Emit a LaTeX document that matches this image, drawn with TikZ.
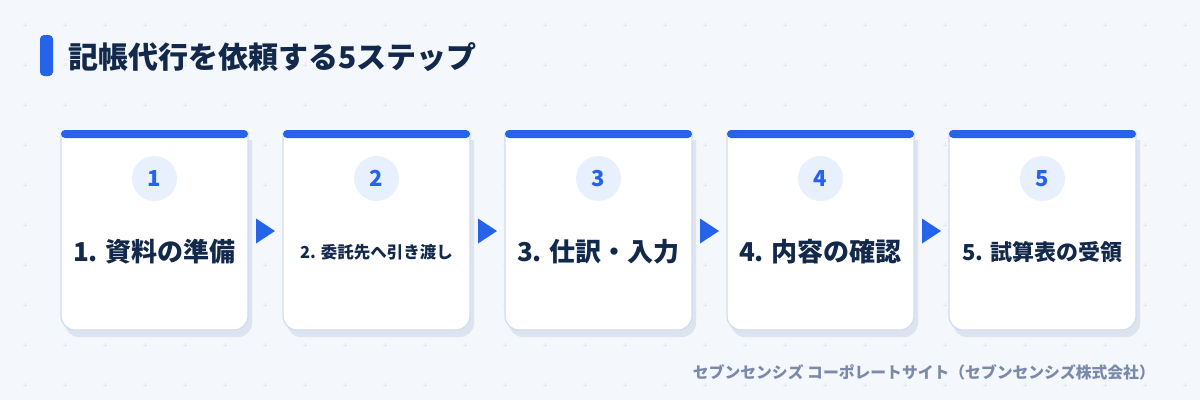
\documentclass[tikz,border=0pt]{standalone}
\usepackage{fontspec}
\setmainfont{Noto Sans CJK JP}
\usetikzlibrary{calc}
\definecolor{bg}{HTML}{F4F7FC}
\definecolor{brand}{HTML}{2563EB}
\definecolor{ink}{HTML}{13294B}
\definecolor{edge}{HTML}{D0DCEC}
\definecolor{cardshadow}{HTML}{DCE4F0}
\definecolor{disc}{HTML}{E8F0FD}
\definecolor{muted}{HTML}{7A8AA8}
\definecolor{dotc}{HTML}{E3E9F3}
\newcommand{\fsz}[1]{\bfseries\fontsize{#1}{#1}\selectfont}
\begin{document}
\begin{tikzpicture}[x=1pt,y=-1pt,
  cardbox/.style={minimum width=187pt, minimum height=197pt, inner sep=0pt},
  numdisc/.style={circle, fill=disc, minimum size=45pt, inner sep=0pt, text=brand, font=\fsz{22}},
  steplabel/.style={text=ink, inner sep=0pt},
  tri/.style={fill=brand}]
\fill[bg] (0,0) rectangle (1200,400);
\useasboundingbox (0,0) rectangle (1200,400);
% background grid of pluses
\foreach \i in {0,...,29}{
  \foreach \j in {0,...,9}{
    \draw[dotc, line width=0.5pt] ({25+40*\i-2},{25+40*\j}) -- ++(4,0)
      ({25+40*\i},{25+40*\j-2}) -- ++(0,4);
  }
}
% title
\fill[brand, rounded corners=4] (40,35) rectangle (53,76);
\node[anchor=west, text=ink, inner sep=0pt, font=\fsz{30}] (title) at (68,57) {記帳代行を依頼する5ステップ};
% cards
\foreach \n in {1,...,5}{
  \pgfmathsetmacro{\cx}{154.5+222*(\n-1)}
  \pgfmathsetmacro{\xa}{\cx-93.5}
  \pgfmathsetmacro{\xb}{\cx+93.5}
  \fill[cardshadow] (\xa+4,140) -- (\xb+4,140) -- (\xb+4,323) arc[start angle=0,end angle=90,radius=14]
     -- (\xa+18,337) arc[start angle=90,end angle=180,radius=14] -- cycle;
  \filldraw[fill=white, draw=edge, line width=1.2pt] (\xa,133) -- (\xb,133) -- (\xb,316) arc[start angle=0,end angle=90,radius=14]
     -- (\xa+14,330) arc[start angle=90,end angle=180,radius=14] -- cycle;
  \fill[brand, rounded corners=4] (\xa,130) rectangle (\xb,138);
  \node[cardbox] (c\n) at (\cx,231.5) {};
  \node[numdisc] (n\n) at (\cx,178.5) {\n};
}
% labels
\node[steplabel, font=\fsz{26}] (t1) at (154.5,252) {1. 資料の準備};
\node[steplabel, font=\fsz{16.5}] (t2) at (376.5,252) {2. 委託先へ引き渡し};
\node[steplabel, font=\fsz{26}] (t3) at (598.5,252) {3. 仕訳・入力};
\node[steplabel, font=\fsz{26}] (t4) at (820.5,252) {4. 内容の確認};
\node[steplabel, font=\fsz{22}] (t5) at (1042.5,252) {5. 試算表の受領};
% arrows
\foreach \a/\b in {1/2,2/3,3/4,4/5}{
  \coordinate (m\a) at ($(c\a.east)!0.5!(c\b.west)$);
  \fill[tri] ($(m\a)+(-9.5,-13)$) -- ($(m\a)+(9.5,-0.5)$) -- ($(m\a)+(-9.5,12)$) -- cycle;
}
% footer
\node[anchor=east, text=muted, inner sep=0pt, font=\fsz{15.8}] (foot) at (1155,372) {セブンセンシズ コーポレートサイト（セブンセンシズ株式会社）};
\end{tikzpicture}
\end{document}
